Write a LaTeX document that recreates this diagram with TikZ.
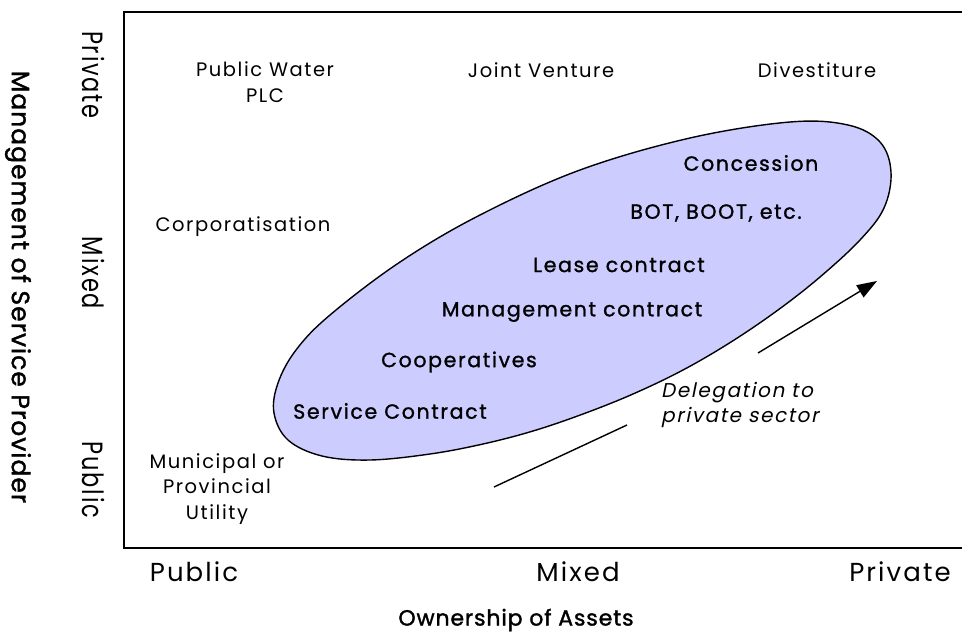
\documentclass[tikz,border=0pt]{standalone}
\usepackage{fontspec}
\setmainfont{Poppins}[LetterSpace=8]
\newfontfamily\labelfont{Poppins}[LetterSpace=8]
\newfontfamily\semifont{Poppins}[LetterSpace=8, FakeBold=1.2]
\newfontfamily\slantfont{Poppins}[LetterSpace=8, FakeSlant=0.2]
\newfontfamily\titlefont{Poppins}[LetterSpace=4, FakeBold=1.5]
\usetikzlibrary{arrows.meta}
\definecolor{blobfill}{HTML}{CCCCFF}
\tikzset{
  lbl/.style={inner sep=0pt, align=center, font=\labelfont\fontsize{19.5}{25.5}\selectfont},
  inner/.style={inner sep=0pt, font=\semifont\fontsize{20.5}{24}\selectfont},
  axlbl/.style={inner sep=0pt, font=\labelfont\fontsize{26}{30}\selectfont},
  yaxlbl/.style={inner sep=0pt, rotate=-90, yscale=1.3, font=\labelfont\fontsize{22.5}{26}\selectfont},
  title/.style={inner sep=0pt, font=\titlefont\fontsize{22}{26}\selectfont},
  frame/.style={line width=2pt},
  flow/.style={line width=1.4pt},
}
\begin{document}
\begin{tikzpicture}[x=1pt,y=-1pt]
\useasboundingbox (0,0) rectangle (962,635);

% plot frame (open on the right)
\draw[frame] (962,12) -- (124,12) -- (124,548) -- (962,548);

% axis titles
\node[title, rotate=-90, font=\titlefont\fontsize{25}{28}\selectfont] (ytitle) at (18,287) {Management of Service Provider};
\node[title] (xtitle) at (516,620) {Ownership of Assets};

% axis categories
\node[yaxlbl] (ypriv) at (93,75) {Private};
\node[yaxlbl] (ymix) at (93,273) {Mixed};
\node[yaxlbl] (ypub) at (93,480) {Public};
\node[axlbl] (xpub) at (194,572) {Public};
\node[axlbl] (xmix) at (578,572) {Mixed};
\node[axlbl] (xpriv) at (900,572) {Private};

% options outside the delegation zone
\node[lbl] (plc) at (265,82) {Public Water\\PLC};
\node[lbl] (jv) at (541,70) {Joint Venture};
\node[lbl] (div) at (817,70) {Divestiture};
\node[lbl] (corp) at (243,227) {Corporatisation};
\node[lbl] (muni) at (217,489) {Municipal or\\Provincial\\Utility};

% delegation zone
\draw[line width=1.4pt, fill=blobfill] plot[smooth cycle, tension=0.6] coordinates {
  (274,413) (278,383) (296,350) (330,315) (400,262) (480,215) (580,170)
  (690,138) (790,122) (848,125) (880,142) (891,172) (884,208) (860,240)
  (820,277) (778,310) (731,342) (683,370) (633,394) (583,414) (533,431)
  (483,444) (430,454) (370,460) (322,456) (288,440)};

\node[inner] (conc) at (751,163) {Concession};
\node[inner] (bot) at (716,213) {BOT, BOOT, etc.};
\node[inner] (lease) at (619,265) {Lease contract};
\node[inner] (mgmt) at (572,312) {Management contract};
\node[inner] (coop) at (459,362) {Cooperatives};
\node[inner] (serv) at (390,411) {Service Contract};

% direction of delegation
\coordinate (d1) at (494,487);
\coordinate (d2) at (627,425);
\coordinate (d3) at (758,353);
\coordinate (d4) at (877,281);
\draw[flow] (d1) -- (d2);
\draw[flow, -{Triangle[length=20pt,width=14pt]}] (d3) -- (d4);
\node[inner sep=0pt, anchor=west, align=left,
      font=\slantfont\fontsize{20}{25}\selectfont] (deleg) at (661,404.5)
      {Delegation to\\private sector};
\end{tikzpicture}
\end{document}
